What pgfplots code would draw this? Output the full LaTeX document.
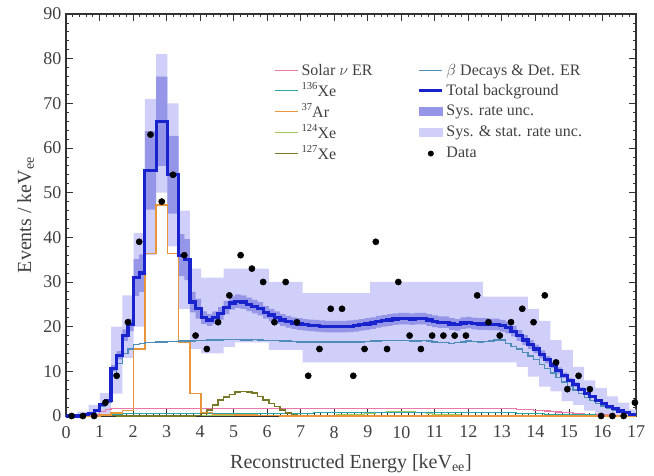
\documentclass[border=0pt]{standalone}
\usepackage{pgfplots}
\pgfplotsset{compat=1.18}
\usepackage{pgfplotstable}
\usepgfplotslibrary{fillbetween}
\usepackage{fontspec}
\setmainfont{Liberation Serif}

\definecolor{lightband}{RGB}{207,207,250}
\definecolor{medband}{RGB}{150,150,232}
\definecolor{totblue}{RGB}{25,35,205}
\definecolor{betacol}{RGB}{80,140,185}
\definecolor{argoncol}{RGB}{232,150,60}
\definecolor{solarcol}{RGB}{235,120,170}
\definecolor{xenonAcol}{RGB}{40,170,170}
\definecolor{xenonBcol}{RGB}{165,200,90}
\definecolor{xenonCcol}{RGB}{120,120,40}
\newcommand{\sups}[1]{\raisebox{0.9ex}{\fontsize{8}{8}\selectfont #1}}

% fine bins (0.168 keV), left edges
\pgfplotstableread{
x T B lo hi sol xa xb xc
0.000 0 0 0 0 0 0 0 0
0.168 0 0 0 0 0 0 0 0
0.336 0 0 0 0 0 0 0 0
0.504 0.3 0.3 0.25 0.35 0 0 0 0
0.672 0.6 0.6 0.55 0.65 0.1 0 0 0
0.840 1.2 1.1 1.1 1.3 0.4 0.1 0 0
1.008 2.5 2.2 2.3 2.7 1.0 0.2 0.1 0.1
1.176 3.5 3.0 3.2 3.8 1.4 0.3 0.1 0.2
1.344 10.7 9.2 10.0 11.4 1.6 0.4 0.1 0.1
1.512 13.6 11.8 12.7 14.5 1.7 0.4 0.1 0
1.680 18.1 14.0 16.8 19.4 1.7 0.5 0.1 0
1.848 20.4 15.0 19.0 21.8 1.7 0.5 0.1 0
2.016 31 16.0 26.9 35.1 1.7 0.5 0.1 0
2.184 32 16.3 27.8 36.2 1.7 0.5 0.1 0
2.352 55 16.5 46.2 63.8 1.7 0.5 0.1 0
2.520 55 16.5 46.2 63.8 1.7 0.5 0.1 0
2.688 66 16.6 56 76 1.7 0.5 0.1 0
2.856 66 16.6 56 76 1.7 0.5 0.1 0
3.024 54 16.7 45.3 62.7 1.7 0.5 0.1 0
3.192 54 16.7 45.3 62.7 1.7 0.5 0.1 0
3.360 36 16.8 31.3 40.7 1.7 0.6 0.1 0
3.528 35 16.8 30.4 39.6 1.7 0.6 0.1 0
3.696 25.5 16.8 23.2 27.8 1.7 0.6 0.1 0
3.864 24 16.9 21.8 26.2 1.7 0.6 0.1 0.1
4.032 22 16.9 20.6 23.4 1.7 0.6 0.1 0.6
4.200 21.5 17.0 20.2 22.8 1.7 0.6 0.1 1.3
4.368 22 17.0 20.6 23.4 1.7 0.6 0.1 2.5
4.536 23 17.0 21.6 24.4 1.7 0.6 0.1 3.6
4.704 24.3 17.1 22.8 25.8 1.7 0.6 0.1 4.3
4.872 25.3 17.1 23.8 26.8 1.7 0.6 0.1 4.8
5.040 25.7 17.1 24.2 27.2 1.7 0.6 0.1 5.4
5.208 25.5 17.0 24.0 27.0 1.7 0.6 0.1 5.5
5.376 25 17.0 23.5 26.5 1.7 0.6 0.1 5.4
5.544 24.5 17.1 23.0 26.0 1.7 0.6 0.1 5.1
5.712 24 17.0 22.5 25.5 1.7 0.6 0.1 4.4
5.880 23.2 16.9 21.8 24.6 1.7 0.6 0.1 3.6
6.048 22.6 16.9 21.2 24.0 1.7 0.6 0.1 2.8
6.216 22 16.9 20.6 23.4 1.7 0.6 0.1 2.1
6.384 21.5 16.8 20.2 22.8 1.7 0.6 0.1 1.3
6.552 21.1 16.8 19.8 22.4 1.7 0.6 0.1 0.7
6.720 20.8 16.7 19.5 22.1 1.7 0.6 0.1 0.3
6.888 20.6 16.6 19.3 21.9 1.7 0.6 0.1 0.1
7.056 20.4 16.6 19.1 21.7 1.7 0.6 0.1 0
7.224 20.3 16.6 19.0 21.6 1.7 0.6 0.1 0
7.392 20.2 16.6 18.9 21.5 1.7 0.7 0.1 0
7.560 20.1 16.6 18.8 21.4 1.7 0.7 0.1 0
7.728 20.0 16.6 18.7 21.3 1.7 0.7 0.1 0
7.896 20.0 16.6 18.7 21.3 1.7 0.7 0.1 0
8.064 20.0 16.6 18.7 21.3 1.7 0.7 0.2 0
8.232 20.0 16.6 18.7 21.3 1.7 0.7 0.2 0
8.400 20.1 16.6 18.8 21.4 1.7 0.7 0.2 0
8.568 20.2 16.6 18.9 21.5 1.7 0.7 0.3 0
8.736 20.4 16.6 19.1 21.7 1.7 0.7 0.4 0
8.904 20.6 16.7 19.3 21.9 1.7 0.7 0.5 0
9.072 20.8 16.8 19.5 22.1 1.7 0.7 0.6 0
9.240 21.1 16.8 19.8 22.4 1.7 0.7 0.7 0
9.408 21.3 16.9 20.0 22.6 1.7 0.7 0.8 0
9.576 21.5 16.9 20.2 22.8 1.7 0.7 0.9 0
9.744 21.7 16.9 20.4 23.0 1.7 0.7 1.0 0
9.912 21.8 16.9 20.5 23.1 1.7 0.7 1.0 0
10.080 21.8 16.9 20.5 23.1 1.7 0.7 1.0 0
10.248 21.7 16.8 20.4 23.0 1.7 0.7 0.9 0
10.416 21.8 16.8 20.5 23.1 1.7 0.7 0.8 0
10.584 21.8 16.9 20.5 23.1 1.7 0.7 0.7 0
10.752 21.5 16.8 20.2 22.8 1.7 0.7 0.5 0
10.920 21.2 16.6 19.9 22.5 1.7 0.7 0.4 0
11.088 21.0 16.4 19.7 22.3 1.7 0.7 0.3 0
11.256 21.0 16.5 19.7 22.3 1.7 0.7 0.2 0
11.424 20.6 16.3 19.3 21.9 1.7 0.7 0.2 0
11.592 20.4 16.4 19.1 21.7 1.7 0.7 0.2 0
11.760 20.8 16.6 19.5 22.1 1.7 0.7 0.1 0
11.928 20.9 16.8 19.6 22.2 1.7 0.7 0.1 0
12.096 20.7 16.7 19.4 22.0 1.7 0.7 0.1 0
12.264 20.6 16.6 19.3 21.9 1.7 0.7 0.1 0
12.432 20.6 16.7 19.3 21.9 1.7 0.7 0.1 0
12.600 20.5 16.8 19.2 21.8 1.7 0.7 0.1 0
12.768 20.5 17.0 19.2 21.8 1.7 0.7 0.1 0
12.936 20.2 17.0 18.9 21.5 1.7 0.7 0.1 0
13.104 19.8 16.3 18.5 21.1 1.6 0.7 0.1 0
13.272 19.0 15.6 17.8 20.2 1.6 0.7 0.1 0
13.440 18.0 15.0 16.8 19.2 1.5 0.6 0.1 0
13.608 17.0 14.2 15.9 18.1 1.4 0.6 0.1 0
13.776 16.0 13.4 15.0 17.0 1.4 0.6 0.1 0
13.944 15.0 12.6 14.0 16.0 1.3 0.5 0.1 0
14.112 13.8 11.6 12.9 14.7 1.2 0.5 0 0
14.280 12.6 10.6 11.8 13.4 1.1 0.4 0 0
14.448 11.4 9.6 10.7 12.1 1.0 0.4 0 0
14.616 10.2 8.6 9.5 10.9 0.9 0.4 0 0
14.784 9.1 7.6 8.5 9.7 0.8 0.3 0 0
14.952 8.0 6.6 7.5 8.5 0.7 0.3 0 0
15.120 7.0 5.8 6.5 7.5 0.6 0.3 0 0
15.288 6.0 5.0 5.6 6.4 0.5 0.2 0 0
15.456 5.1 4.2 4.8 5.4 0.4 0.2 0 0
15.624 4.3 3.5 4.0 4.6 0.4 0.2 0 0
15.792 3.5 2.8 3.3 3.7 0.3 0.1 0 0
15.960 2.8 2.2 2.6 3.0 0.2 0.1 0 0
16.128 2.2 1.7 2.1 2.3 0.2 0.1 0 0
16.296 1.6 1.2 1.5 1.7 0.1 0.1 0 0
16.464 1.1 0.8 1.0 1.2 0.1 0 0 0
16.632 0.7 0.5 0.65 0.75 0.1 0 0 0
16.800 0.4 0.3 0.37 0.43 0 0 0 0
17.000 0.4 0.3 0.37 0.43 0 0 0 0
}\fine

% coarse bins (0.336 keV), left edges
\pgfplotstableread{
x Ar llo lhi
0.000 0 0 0.3
0.336 0 0 1.0
0.672 0 0 2.5
1.008 0.2 0.5 5.1
1.344 0.7 5 20
1.680 1.2 13 27
2.016 15 20 41
2.352 36.4 36 71
2.688 47.2 50 81
3.024 36.4 38 70
3.360 16.6 24 46
3.696 5.0 15 33
4.032 0.8 14 31
4.368 0.3 14 31
4.704 0.3 15.5 33
5.040 0.2 16.5 33
5.376 0.2 16.5 33
5.712 0.1 16.5 33
6.048 0.1 14.8 30
6.384 0 14.8 30
6.720 0 14.8 30
7.056 0 12 27.5
7.392 0 12 27.5
7.728 0 12 27.5
8.064 0 12 27.5
8.400 0 12 27.5
8.736 0 12 27.5
9.072 0 12 30
9.408 0 12 30
9.744 0 12 30
10.080 0 12 30
10.416 0 12 30
10.752 0 12 30
11.088 0 12 30
11.424 0 12 30
11.760 0 12 30
12.096 0 12 30
12.432 0 12 26.7
12.768 0 12 26.7
13.104 0 12 26.7
13.440 0 11 26.7
13.776 0 8.8 24
14.112 0 6.6 21.3
14.448 0 5.5 17
14.784 0 3.3 14.8
15.120 0 2.5 11
15.456 0 1.2 8
15.792 0 0.4 6.3
16.128 0 0 4.4
16.464 0 0 3
16.800 0 0 1.5
17.000 0 0 1.5
}\coarse

\pgfplotstableread{
x y
0.168 0
0.504 0
0.840 0
1.176 3
1.512 9
1.848 21
2.184 39
2.520 63
2.856 48
3.192 54
3.528 36
3.864 18
4.200 15
4.536 21
4.872 27
5.208 36
5.544 33
5.880 30
6.216 21
6.552 30
6.888 21
7.224 9
7.560 15
7.896 24
8.232 24
8.568 9
8.904 15
9.240 39
9.576 15
9.912 30
10.248 18
10.584 15
10.920 18
11.256 18
11.592 18
11.928 18
12.264 27
12.600 21
12.936 18
13.272 21
13.608 24
13.944 21
14.280 27
14.616 12
14.952 6
15.288 9
15.624 6
15.960 0
16.296 0
16.632 0
16.968 3
}\data

\begin{document}
\begin{tikzpicture}
\begin{axis}[
  scale only axis,
  width=427.5pt, height=301.5pt,
  xmin=0, xmax=17, ymin=0, ymax=90,
  xtick={0,1,...,17}, ytick={0,10,...,90},
  minor x tick num=4, minor y tick num=4,
  major tick length=5pt, minor tick length=2.5pt,
  tick style={black!80, line width=0.6pt},
  axis line style={black!80, line width=0.8pt},
  clip=false,
  /pgf/number format/assume math mode=true,
  ticklabel style={font=\fontsize{13.5}{15}\selectfont, text=black!75},
  xticklabel style={yshift=-4pt},
  label style={font=\fontsize{15}{18}\selectfont, text=black!75},
  xlabel style={yshift=-5.5pt},
  xlabel={Reconstructed Energy [keV\textsubscript{ee}]},
  ylabel={Events / keV\textsubscript{ee}},
  legend style={at={(axis cs:6.1,80)}, anchor=north west, draw=none, fill=none,
    font=\fontsize{12}{13}\selectfont, text=black!75,
    /tikz/every even column/.append style={column sep=32pt},
    row sep=0pt},
  legend cell align=left,
  legend columns=2,
]
% light band
\addplot[const plot mark left, draw=none, name path=LH, forget plot] table[x=x,y=lhi]{\coarse};
\addplot[const plot mark left, draw=none, name path=LL, forget plot] table[x=x,y=llo]{\coarse};
\addplot[fill=lightband, draw=none, forget plot] fill between[of=LH and LL];
% medium band
\addplot[const plot mark left, draw=none, name path=MH, forget plot] table[x=x,y=hi]{\fine};
\addplot[const plot mark left, draw=none, name path=ML, forget plot] table[x=x,y=lo]{\fine};
\addplot[fill=medband, draw=none, forget plot] fill between[of=MH and ML];
% components
\addplot[const plot mark left, color=solarcol, line width=0.9pt, forget plot] table[x=x,y=sol]{\fine};
\addplot[const plot mark left, color=xenonBcol, line width=0.9pt, forget plot] table[x=x,y=xb]{\fine};
\addplot[const plot mark left, color=xenonAcol, line width=0.9pt, forget plot] table[x=x,y=xa]{\fine};
\addplot[const plot mark left, color=xenonCcol, line width=1.1pt, forget plot] table[x=x,y=xc]{\fine};
\addplot[const plot mark left, color=argoncol, line width=1.1pt, forget plot] table[x=x,y=Ar]{\coarse};
\addplot[const plot mark left, color=betacol, line width=1.0pt, forget plot] table[x=x,y=B]{\fine};
\addplot[const plot mark left, color=totblue, line width=2.4pt, forget plot] table[x=x,y=T]{\fine};
% data
\addplot[only marks, mark=*, mark size=2.3pt, black, forget plot] table[x=x,y=y]{\data};

% legend (row-wise)
\addlegendimage{color=solarcol, line width=1pt}
\addlegendentry{Solar $\nu$ ER}
\addlegendimage{color=betacol, line width=1pt}
\addlegendentry{$\beta$ Decays \& Det. ER}
\addlegendimage{color=xenonAcol, line width=1pt}
\addlegendentry{\sups{136}Xe}
\addlegendimage{color=totblue, line width=2.4pt}
\addlegendentry{Total background}
\addlegendimage{color=argoncol, line width=1pt}
\addlegendentry{\sups{37}Ar}
\addlegendimage{area legend, fill=medband, draw=medband}
\addlegendentry{Sys. rate unc.}
\addlegendimage{color=xenonBcol, line width=1pt}
\addlegendentry{\sups{124}Xe}
\addlegendimage{area legend, fill=lightband, draw=lightband}
\addlegendentry{Sys. \& stat. rate unc.}
\addlegendimage{color=xenonCcol, line width=1pt}
\addlegendentry{\sups{127}Xe}
\addlegendimage{only marks, mark=*, mark size=2pt, black}
\addlegendentry{Data}
\end{axis}
\pgfresetboundingbox
\useasboundingbox ([xshift=-49.5pt,yshift=-45pt]current axis.south west) rectangle ([xshift=13.5pt,yshift=10.5pt]current axis.north east);
\end{tikzpicture}
\end{document}
